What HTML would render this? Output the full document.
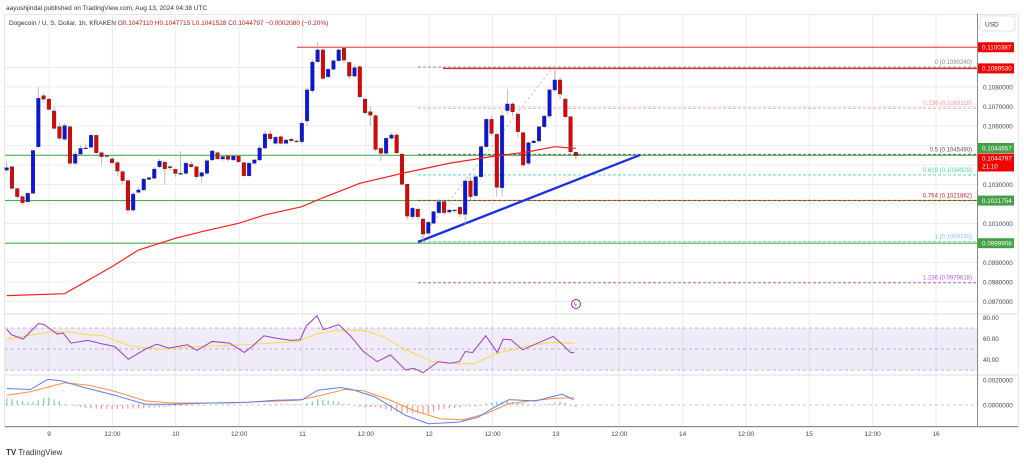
<!DOCTYPE html>
<html><head><meta charset="utf-8"><style>
body{margin:0;background:#fff;width:1024px;height:461px;overflow:hidden;font-family:"Liberation Sans",sans-serif}
svg text{font-family:"Liberation Sans",sans-serif}
</style></head><body>
<svg id="chart" width="1024" height="461" viewBox="0 0 1024 461" xmlns="http://www.w3.org/2000/svg">
<text x="6" y="10" font-size="6.5" fill="#333">aayushjindal published on TradingView.com, Aug 13, 2024 04:38 UTC</text>
<rect x="4.5" y="14.5" width="1014" height="413" fill="none" stroke="#e6e6e6"/>
<g id="grid"></g>
<rect x="5" y="328" width="972" height="42.5" fill="#7e57c2" fill-opacity="0.12"/>
<g id="levels"></g>
<g id="candles"></g>
<g id="ind"></g>
<text x="9" y="25" font-size="6.5" fill="#333">Dogecoin / U. S. Dollar, 1h, KRAKEN <tspan fill="#b71c1c">O0.1047110 H0.1047715 L0.1041528 C0.1044797 −0.0002080 (−0.20%)</tspan></text>
<line x1="977.5" y1="14" x2="977.5" y2="427" stroke="#888"/>
<line x1="5" y1="426.5" x2="1018" y2="426.5" stroke="#888"/>
<rect x="980" y="16" width="35" height="15" rx="3" fill="#fff" stroke="#e0e0e0"/>
<text x="985" y="26.5" font-size="6.5" fill="#333">USD</text>
<g id="axes"></g>
<circle cx="576" cy="304" r="4.5" fill="none" stroke="#9c27b0"/>
<text x="573.5" y="306.5" font-size="6" fill="#9c27b0">ϟ</text>
<text x="6" y="455" font-size="8" fill="#333"><tspan font-weight="bold">TV</tspan> TradingView</text>
</svg>
<script>
const opens=[.10374,.10391,.10279,.10238,.10212,.10255,.10494,.10755,.10738,.10677,.10596,.10532,.10596,.10409,.10456,.10487,.10491,.10552,.10463,.10448,.10431,.10412,.10366,.10320,.10169,.10260,.10272,.10326,.10332,.10391,.10414,.10391,.10378,.10357,.10357,.10403,.10391,.10343,.10357,.10426,.10463,.10431,.10446,.10426,.10446,.10412,.10345,.10409,.10426,.10487,.10559,.10511,.10545,.10511,.10532,.10523,.10520,.10626,.10781,.10930,.10990,.10853,.10891,.10935,.10998,.10926,.10856,.10904,.10738,.10673,.10653,.10485,.10460,.10537,.10554,.10456,.10301,.10135,.10173,.10123,.10050,.10101,.10156,.10212,.10159,.10169,.10183,.10147,.10318,.10243,.10340,.10494,.10634,.10557,.10284,.10679,.10713,.10661,.10566,.10409,.10514,.10523,.10596,.10651,.10785,.10836,.10738,.10648,.10465];
const closes=[.10386,.10280,.10238,.10207,.10255,.10474,.10742,.10738,.10685,.10588,.10537,.10602,.10409,.10456,.10485,.10487,.10552,.10463,.10443,.10448,.10412,.10369,.10320,.10169,.10251,.10272,.10328,.10335,.10379,.10420,.10381,.10386,.10357,.10357,.10409,.10391,.10340,.10361,.10422,.10472,.10432,.10443,.10429,.10446,.10417,.10345,.10409,.10426,.10487,.10559,.10535,.10542,.10511,.10528,.10525,.10523,.10614,.10785,.10928,.10990,.10844,.10891,.10935,.10990,.10938,.10856,.10899,.10750,.10668,.10656,.10480,.10460,.10537,.10554,.10463,.10301,.10138,.10178,.10135,.10046,.10106,.10161,.10212,.10156,.10169,.10169,.10149,.10318,.10238,.10340,.10494,.10634,.10562,.10286,.10653,.10713,.10673,.10571,.10400,.10514,.10523,.10596,.10651,.10785,.10836,.10764,.10648,.10468,.10448];
const highs=[.10420,.10395,.10285,.10245,.10260,.10480,.10800,.10770,.10745,.10700,.10620,.10615,.10600,.10470,.10500,.10510,.10560,.10556,.10470,.10450,.10440,.10420,.10372,.10325,.10260,.10285,.10335,.10340,.10390,.10430,.10420,.10400,.10380,.10470,.10420,.10420,.10395,.10365,.10430,.10478,.10470,.10450,.10452,.10450,.10450,.10415,.10415,.10430,.10500,.10575,.10580,.10548,.10552,.10535,.10538,.10530,.10625,.10795,.10940,.11030,.10995,.10895,.10940,.10998,.11005,.10930,.10910,.10910,.10740,.10700,.10660,.10490,.10545,.10565,.10560,.10460,.10305,.10185,.10180,.10125,.10110,.10165,.10225,.10218,.10175,.10175,.10190,.10330,.10340,.10345,.10500,.10640,.10650,.10565,.10680,.10790,.10720,.10670,.10570,.10520,.10528,.10600,.10660,.10790,.10902,.10850,.10745,.10650,.10468];
const lows=[.10360,.10275,.10225,.10195,.10205,.10250,.10485,.10725,.10680,.10580,.10530,.10525,.10400,.10400,.10450,.10480,.10485,.10455,.10400,.10440,.10400,.10340,.10300,.10150,.10160,.10255,.10268,.10322,.10325,.10385,.10300,.10370,.10340,.10350,.10350,.10385,.10330,.10310,.10350,.10420,.10425,.10420,.10415,.10420,.10410,.10340,.10340,.10405,.10420,.10480,.10525,.10505,.10505,.10508,.10520,.10515,.10510,.10600,.10770,.10925,.10835,.10845,.10885,.10930,.10920,.10840,.10850,.10740,.10660,.10600,.10470,.10420,.10450,.10530,.10455,.10295,.10120,.10120,.10120,.10007,.10040,.10095,.10150,.10140,.10150,.10155,.10130,.10090,.10220,.10235,.10335,.10490,.10550,.10238,.10240,.10660,.10650,.10540,.10390,.10400,.10510,.10520,.10590,.10640,.10775,.10740,.10640,.10460,.10430];
const maIdx=[0,11,20,25,32,37,44,49,56,60,67,75,84,92,99,104,108];
const maVal=[.0973,.0974,.09879,.09964,.10024,.10058,.10101,.10144,.10186,.10232,.10306,.10357,.10409,.10443,.10468,.10494,.10485];
const rsiIdx=[0,0.9,3.1,6,7.1,9.6,10.7,12.2,15.4,18,20.5,23.1,26.3,28.5,30.7,34.3,36.1,39,42.3,45.1,46.7,48.8,51,53.9,55.7,56.8,58.9,60.1,63,65.2,67.7,70.3,72.8,75.7,77.2,79,81.9,84.1,85.9,87,88.4,90.9,93.1,94.2,95.7,97.9,100,103.7,105.5,107,107.7];
const rsiVal=[69,63.6,59.4,74.2,73.2,64.2,65.2,55.6,58.2,55,52.4,40.2,49.8,54.6,50.8,54,48.6,57.2,55.6,46.6,53,62.6,60.4,58.2,58.8,71.6,81.8,68.4,73.2,62.6,47.6,38,44.4,30,31.6,27.4,38,36.4,38,47.6,46.6,62.6,46.6,59.4,58.8,49.2,54,62,54,46.6,46.6];
const rsiMaIdx=[0,8.2,11.9,15.4,18.3,23.4,29.2,36.5,45.2,55.3,59,62.6,67.7,71.4,75.7,80.8,85.9,88.8,93.1,98.9,103.3,107.7];
const rsiMaVal=[59.4,66.2,66.2,63.6,62.6,53,49.8,52.4,54,57.2,64.6,67.8,67.8,62,49.2,38,35.8,36.4,46,53,56.2,55.6];
const macdIdx=[0,4.5,7.8,10.3,14.7,20.5,26.3,31.4,38.7,45.9,51,56.1,59,63.3,65.5,69.9,75.7,80,85.8,89.5,92.4,95.3,100.4,103.3,105.4,107.6];
const macdVal=[13.2,12.4,20.5,19.4,14,7.8,0.6,0.6,1.6,2.2,3.8,4.3,11.8,14,12.4,6.5,-8.3,-15,-13.7,-9.7,-2.1,4.3,3.2,6.5,8.6,4.3];
const sigIdx=[0,4.5,11,15.4,19.8,26.3,31.4,42.3,55.4,59.7,64.1,67.7,72.8,77.1,82.2,86.6,90.9,95.3,100.4,104,107.6];
const sigVal=[7.8,10.6,17.8,15.9,11.8,3.3,1.6,1.6,3.8,7.8,12.4,11.4,3.8,-4.2,-11,-11.8,-7,1.1,3.8,5.3,5.9];
const priceTicks=[0.108,0.107,0.106,0.103,0.101,0.099,0.098,0.097];
const rsiTicks=[80,60,40];
const macdTicks=[0.002,0];
const timeLabels=["9","12:00","10","12:00","11","12:00","12","12:00","13","12:00","14","12:00","15","12:00","16"];
const fibRatios=["0","0.236","0.5","0.618","0.764","1","1.236"];
const fibPrices=[0.1090240,0.1069118,0.1045490,0.1034929,0.1021862,0.1000740,0.0979618];
const fibColors=["#888","#ef9a9a","#555","#4dd0b0","#c62828","#81c7e8","#b05ce0"];
const hLevels=[0.1044957,0.1021754,0.0999908];
const resistLevels=[0.1100387,0.1089530];

const NS="http://www.w3.org/2000/svg";
const X=i=>6.7+5.27*i;
const XT=k=>49+31.68*k; // 6-hour steps
const YP=p=>87+(0.108-p)*19500;
const YR=v=>349-(v-50)*1.05;
const YM=v=>405-v*1.25;
function mk(tag,attrs,parent){const e=document.createElementNS(NS,tag);for(const k in attrs)e.setAttribute(k,attrs[k]);parent.appendChild(e);return e;}
const grid=document.getElementById('grid'),lv=document.getElementById('levels'),cg=document.getElementById('candles'),ind=document.getElementById('ind'),ax=document.getElementById('axes');
const fmt=v=>v.toFixed(7);

timeLabels.forEach((t,k)=>{const x=XT(k*2);
 const l=mk('line',{x1:x,y1:15,x2:x,y2:426,stroke:'#ececec'},grid);
 
 
 const tx=mk('text',{x:x,y:436,'font-size':6.5,fill:'#444','text-anchor':'middle'},ax);tx.textContent=t;
 
 
});
priceTicks.forEach(p=>{const y=YP(p);
 const l=mk('line',{x1:5,y1:y,x2:977,y2:y,stroke:'#ececec'},grid);
 
 
 const t=mk('text',{x:983,y:y+2.3,'font-size':6.3,fill:'#444'},ax);t.textContent=fmt(p);
 
 
});
[0.109,0.105,0.104,0.102,0.100].forEach(p=>{const y=YP(p);const l=mk('line',{x1:5,y1:y,x2:977,y2:y,stroke:'#ececec'},grid);
 
 });
rsiTicks.forEach(v=>{const y=YR(v);
 const t=mk('text',{x:983,y:y+2.3,'font-size':6.3,fill:'#444'},ax);t.textContent=v.toFixed(2);
 
 
});
[70,50,30].forEach(v=>{const l=mk('line',{x1:5,y1:YR(v),x2:977,y2:YR(v),stroke:'#b8a8c8','stroke-dasharray':'3,3','stroke-width':0.7},grid);
 
 });
macdTicks.forEach(v=>{const y=YM(v*10000);
 const t=mk('text',{x:983,y:y+2.3,'font-size':6.3,fill:'#444'},ax);t.textContent=fmt(v);
 
 
});
[314,375].forEach(y=>{const l=mk('line',{x1:5,y1:y,x2:1018,y2:y,stroke:'#ddd'},grid);
 
 });
const z=mk('line',{x1:5,y1:YM(0),x2:977,y2:YM(0),stroke:'#bbb','stroke-dasharray':'3,3','stroke-width':0.7},grid);



// levels
hLevels.forEach(p=>{const l=mk('line',{x1:5,y1:YP(p),x2:977,y2:YP(p),stroke:'#4caf50','stroke-width':1.2},lv);
 
 });
const r1=mk('line',{x1:297,y1:YP(resistLevels[0]),x2:977,y2:YP(resistLevels[0]),stroke:'#f05050','stroke-width':1.3},lv);


const r2=mk('line',{x1:443,y1:YP(resistLevels[1]),x2:977,y2:YP(resistLevels[1]),stroke:'#d32f2f','stroke-width':1.3},lv);


fibPrices.forEach((p,k)=>{const y=YP(p);
 const l=mk('line',{x1:418,y1:y,x2:977,y2:y,stroke:fibColors[k],'stroke-dasharray':'3,2','stroke-width':0.9},lv);
 
 
 const t=mk('text',{x:972,y:y-3,'font-size':6,fill:fibColors[k],'text-anchor':'end'},lv);t.textContent=fibRatios[k]+' ('+fmt(p)+')';
 
 
});
const fd=mk('line',{x1:418,y1:YP(fibPrices[5]),x2:553,y2:YP(fibPrices[0]),stroke:'#aaa','stroke-dasharray':'2,3','stroke-width':0.8},lv);


const tl=mk('line',{x1:418,y1:242,x2:640,y2:155,stroke:'#1a2fe0','stroke-width':2.3},lv);



// candles
opens.forEach((o,i)=>{const c=closes[i],x=X(i),up=c>=o;
 const w=mk('line',{x1:x,y1:YP(highs[i]),x2:x,y2:YP(lows[i]),stroke:'#aaa','stroke-width':0.8},cg);
 
 
 const t=YP(Math.max(o,c)),b=YP(Math.min(o,c));
 const r=mk('rect',{x:x-1.8,y:t,width:3.6,height:Math.max(0.8,b-t),fill:up?'#0a14e6':'#e50000',stroke:'#333','stroke-width':0.4},cg);
 
 
});
function poly(ix,vals,yf,color,w,name){const pts=ix.map((i,k)=>X(i)+','+yf(vals[k])).join(' ');
 const p=mk('polyline',{points:pts,fill:'none',stroke:color,'stroke-width':w},ind);return p;}
const ma=poly(maIdx,maVal,YP,'#f02020',1.2);


function interp(ix,vals,i){if(i<=ix[0])return vals[0];for(let k=1;k<ix.length;k++)if(i<=ix[k]){const f=(i-ix[k-1])/(ix[k]-ix[k-1]);return vals[k-1]+f*(vals[k]-vals[k-1]);}return vals[vals.length-1];}
for(let i=0;i<opens.length;i++){const h=interp(macdIdx,macdVal,i)-interp(sigIdx,sigVal,i);
 const r=mk('rect',{x:X(i)-0.6,y:Math.min(YM(0),YM(h)),width:1.2,height:Math.abs(YM(h)-YM(0)),fill:h>=0?'#26a69a':'#ef5350','fill-opacity':0.6},ind);
 
 
}
const rm=poly(rsiMaIdx,rsiMaVal,YR,'#fdd835',0.9);


const rl=poly(rsiIdx,rsiVal,YR,'#9c3fbf',1);


const sl=poly(sigIdx,sigVal,YM,'#ff9040',1);


const ml=poly(macdIdx,macdVal,YM,'#5a80f0',1);



// price tags
const tags=[[resistLevels[0],'#f20000',YP(resistLevels[0])],[resistLevels[1],'#f20000',YP(resistLevels[1])],[hLevels[0],'#43a047',148],[hLevels[1],'#43a047',YP(hLevels[1])],[hLevels[2],'#43a047',YP(hLevels[2])]];
tags.forEach(([p,col,y])=>{const r=mk('rect',{x:978,y:y-5,width:36,height:10,fill:col},ax);
 
 
 const t=mk('text',{x:982,y:y+2.3,'font-size':6.3,fill:'#fff'},ax);t.textContent=fmt(p);
 
 
});
const lr=mk('rect',{x:978,y:153.5,width:36,height:18,fill:'#f20000'},ax);


const lt=mk('text',{x:982,y:160.5,'font-size':6.3,fill:'#fff'},ax);lt.textContent=fmt(closes[closes.length-1]+0.0000000-0.0000003);
lt.textContent='0.1044797';


const lc=mk('text',{x:982,y:168.5,'font-size':6.3,fill:'#fff'},ax);lc.textContent='21:10';


</script>
</body></html>
